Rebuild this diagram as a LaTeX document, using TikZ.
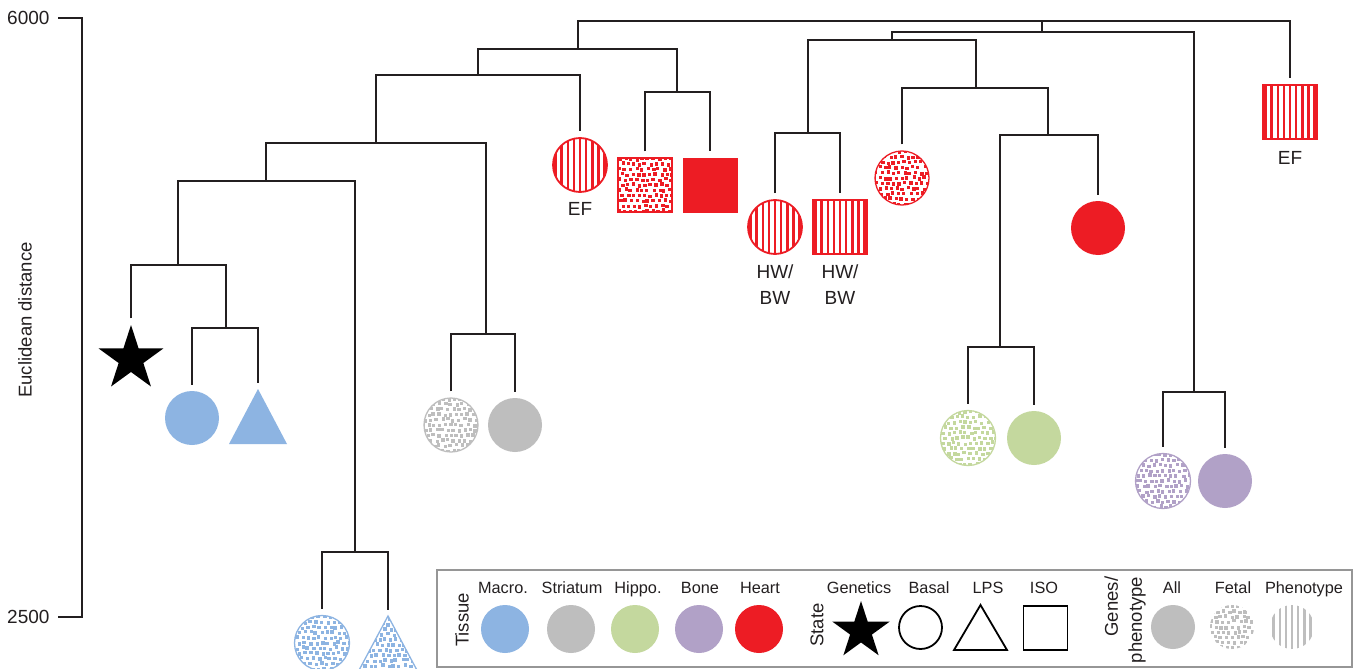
\documentclass[tikz,border=0pt]{standalone}
\usepackage{fontspec}
\setmainfont{Liberation Sans}
\usetikzlibrary{shapes.geometric,calc}
\definecolor{ink}{RGB}{35,31,32}
\definecolor{cred}{RGB}{237,28,36}
\definecolor{cblue}{RGB}{141,180,226}
\definecolor{cgrey}{RGB}{190,190,190}
\definecolor{cgreen}{RGB}{196,216,158}
\definecolor{cpurple}{RGB}{177,161,199}
\definecolor{frame}{RGB}{150,150,150}
\tikzset{
 tree/.style={draw=ink, line width=1.9pt},
 lfs/.style={shorten <=6pt},
 lfe/.style={shorten >=6pt},
 dotpat/.style={path picture={
   \foreach \i in {-6,...,6}{\foreach \j in {-6,...,6}{
     \pgfmathsetmacro{\dx}{\i*5.6+abs(mod(\j,2))*2.8+1.3*rand}
     \pgfmathsetmacro{\dy}{\j*5.2+1.1*rand}
     \fill[#1] ($(path picture bounding box.center)+(\dx-1.7,\dy-1.7)$) rectangle ++(3.4,3.4);}}}},
 stripepat/.style={path picture={
   \foreach \i in {-6,...,6}{
     \fill[#1] ($(path picture bounding box.center)+(\i*6.1-1.3,-45)$) rectangle ++(2.6,90);}}},
 solidc/.style={circle, fill=#1, inner sep=0pt, minimum size=54pt},
 dotc/.style={circle, draw=#1, line width=1.3pt, inner sep=0pt, minimum size=54pt, dotpat=#1},
 stripec/.style={circle, draw=#1, line width=1.8pt, inner sep=0pt, minimum size=54pt, stripepat=#1},
 solidsq/.style={rectangle, fill=#1, inner sep=0pt, minimum size=55pt},
 dotsq/.style={rectangle, draw=#1, line width=1.4pt, inner sep=0pt, minimum size=54pt, dotpat=#1},
 stripesq/.style={rectangle, draw=#1, line width=1.8pt, inner sep=0pt, minimum size=54pt, stripepat=#1},
 starshape/.style={star, star points=5, star point ratio=2.618, fill=black, inner sep=0pt},
 lab/.style={text=ink, font=\fontsize{19}{26}\selectfont},
 leg/.style={text=ink, font=\fontsize{16.3}{19}\selectfont, anchor=base},
 head/.style={text=ink, font=\fontsize{18.5}{24}\selectfont, rotate=90},
}
\begin{document}
\begin{tikzpicture}[x=1pt,y=-1pt]
\pgfmathsetseed{7}
\useasboundingbox (0,0) rectangle (1358,669);
\fill[white] (0,0) rectangle (1358,669);
% axis
\coordinate (t1) at (58,18);
\coordinate (at) at (82,18);
\coordinate (ab) at (82,617);
\coordinate (t2) at (58,617);
\draw[tree] (t1) -- (at) -- (ab) -- (t2);
\node[lab, anchor=east] (y6000) at (53,18) {6000};
\node[lab, anchor=east] (y2500) at (53,617) {2500};
\node[head, font=\fontsize{18.5}{24}\selectfont] (ylab) at (25,320) {Euclidean distance};
% leaves
\node[starshape, minimum size=68pt] (L1) at (131,359) {};
\node[solidc=cblue] (L2) at (192,418) {};
\coordinate (L3) at (258,389);
\path[fill=cblue] (229,444) -- (L3) -- (287,444) -- cycle;
\node[dotc=cblue, minimum size=55pt] (L4) at (322,643) {};
\coordinate (L5) at (388,616);
\path[draw=cblue, line width=1.3pt, dotpat=cblue] (357,674) -- (L5) -- (419,674) -- cycle;
\node[dotc=cgrey] (L6) at (451,425) {};
\node[solidc=cgrey] (L7) at (515,425) {};
\node[stripec=cred] (L8) at (580,165) {};
\node[dotsq=cred] (L9) at (645,185) {};
\node[solidsq=cred] (L10) at (710,185) {};
\node[stripec=cred] (L11) at (775,227) {};
\node[stripesq=cred] (L12) at (840,227) {};
\node[dotc=cred] (L13) at (902,178) {};
\node[solidc=cred] (L14) at (1098,228) {};
\node[dotc=cgreen, minimum size=55pt] (L15) at (968,438) {};
\node[solidc=cgreen] (L16) at (1034,438) {};
\node[dotc=cpurple, minimum size=55pt] (L17) at (1163,481) {};
\node[solidc=cpurple] (L18) at (1225,481) {};
\node[stripesq=cred] (L19) at (1290,112) {};
% leaf labels
\node[lab] (ef1) at (580,208.5) {EF};
\node[lab, align=center] (hw1) at (775,285) {HW/\\BW};
\node[lab, align=center] (hw2) at (840,285) {HW/\\BW};
\node[lab] (ef2) at (1290,158) {EF};
% internal nodes
\coordinate (Nstar) at (178,265);
\coordinate (Nbl) at (226,328);
\coordinate (Nbd) at (355,552);
\coordinate (Na) at (266,181);
\coordinate (Ngr) at (486,334);
\coordinate (Nb) at (376,143);
\coordinate (Nc) at (478,75);
\coordinate (Nsq) at (677,92);
\coordinate (Nd) at (578,49);
\coordinate (Nhw) at (808,133);
\coordinate (Ngn) at (1000,347);
\coordinate (Ne) at (1048,135);
\coordinate (Nf) at (976,88);
\coordinate (Ng) at (892,40);
\coordinate (Npu) at (1194,392);
\coordinate (Nh) at (1042,32);
\coordinate (Root) at (1042,21);
% dendrogram
\draw[tree,lfs] (L1.north) |- (Nstar) -| (Nbl);
\draw[tree,lfs,lfe] (L2.north) |- (Nbl) -| (L3);
\draw[tree,lfs,lfe] (L4.north) |- (Nbd) -| (L5);
\draw[tree] (Nstar) |- (Na) -| (Nbd);
\draw[tree,lfs,lfe] (L6.north) |- (Ngr) -| (L7.north);
\draw[tree] (Na) |- (Nb) -| (Ngr);
\draw[tree,lfe] (Nb) |- (Nc) -| (L8.north);
\draw[tree,lfs,lfe] (L9.north) |- (Nsq) -| (L10.north);
\draw[tree] (Nc) |- (Nd) -| (Nsq);
\draw[tree,lfs,lfe] (L11.north) |- (Nhw) -| (L12.north);
\draw[tree,lfs,lfe] (L15.north) |- (Ngn) -| (L16.north);
\draw[tree,lfe] (Ngn) |- (Ne) -| (L14.north);
\draw[tree,lfs] (L13.north) |- (Nf) -| (Ne);
\draw[tree] (Nhw) |- (Ng) -| (Nf);
\draw[tree,lfs,lfe] (L17.north) |- (Npu) -| (L18.north);
\draw[tree] (Ng) |- (Nh) -| (Npu);
\draw[tree,lfe] (Nd) |- (Root) -| (L19.north);
\draw[tree] (Root) -- (Nh);
% legend
\node[draw=frame, line width=1.2pt, minimum width=915pt, minimum height=97pt, inner sep=0pt] (legend) at (894.5,618.5) {};
\node[head] (hTis) at (462,620) {Tissue};
\node[head] (hSta) at (817,625) {State};
\node[head, align=right] (hGen) at (1125,620) {Genes/\\phenotype};
\node[leg] (tMac) at (503,593) {Macro.};
\node[leg] (tStr) at (572,593) {Striatum};
\node[leg] (tHip) at (638,593) {Hippo.};
\node[leg] (tBon) at (700,593) {Bone};
\node[leg] (tHea) at (760,593) {Heart};
\node[leg] (tGen) at (859,593) {Genetics};
\node[leg] (tBas) at (929,593) {Basal};
\node[leg] (tLPS) at (988,593) {LPS};
\node[leg] (tISO) at (1044,593) {ISO};
\node[leg] (tAll) at (1172,593) {All};
\node[leg] (tFet) at (1233,593) {Fetal};
\node[leg] (tPhe) at (1304,593) {Phenotype};
\node[solidc=cblue, minimum size=48pt] (gMac) at (505,629) {};
\node[solidc=cgrey, minimum size=48pt] (gStr) at (571,629) {};
\node[solidc=cgreen, minimum size=48pt] (gHip) at (635,629) {};
\node[solidc=cpurple, minimum size=48pt] (gBon) at (699,629) {};
\node[solidc=cred, minimum size=48pt] (gHea) at (759,629) {};
\node[starshape, minimum size=60pt] (gGen) at (861,631) {};
\node[circle, draw=black, line width=1.8pt, minimum size=43pt, inner sep=0pt] (gBas) at (920.5,627.5) {};
\coordinate (gLPS) at (980.5,605);
\draw[black, line width=1.8pt, line join=miter] (954,650) -- (gLPS) -- (1007,650) -- cycle;
\node[rectangle, draw=black, line width=1.8pt, minimum size=44pt, inner sep=0pt] (gISO) at (1045.5,628) {};
\node[solidc=cgrey, minimum size=44pt] (gAll) at (1173,627) {};
\node[circle, inner sep=0pt, minimum size=44pt, dotpat=cgrey] (gFet) at (1232,627) {};
\node[circle, inner sep=0pt, minimum size=44pt, stripepat=cgrey] (gPhe) at (1292,627) {};
\end{tikzpicture}
\end{document}
